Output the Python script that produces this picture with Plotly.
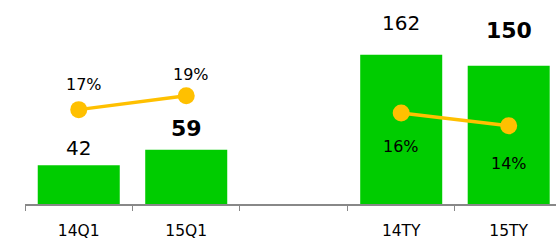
import plotly.graph_objects as go

# ---- data ----
categories = ["14Q1", "15Q1", " ", "14TY", "15TY"]
bar_values = [42, 59, None, 162, 150]
bar_labels = ["42", "<b>59</b>", "", "162", "<b>150</b>"]
q1_cats = ["14Q1", "15Q1"]
q1_pct = [17, 19]
ty_cats = ["14TY", "15TY"]
ty_pct = [16, 14]

# ---- style ----
GREEN = "#00CC00"
ORANGE = "#FFC000"
FONT = "DejaVu Sans"
bar_label_size = [20, 22, 20, 20, 22]
bar_label_shift = [17, 21, 0, 32, 35.5]
q1_label_shift = [25.4, 21.2]
ty_label_shift = [-33.5, -37.7]

fig = go.Figure()
fig.add_trace(go.Bar(x=categories, y=bar_values, marker_color=GREEN,
                     marker_line_width=0, hoverinfo="skip"))
fig.add_trace(go.Scatter(x=q1_cats, y=q1_pct, yaxis="y2", mode="lines+markers",
                         line=dict(color=ORANGE, width=3.5),
                         marker=dict(color=ORANGE, size=17)))
fig.add_trace(go.Scatter(x=ty_cats, y=ty_pct, yaxis="y3", mode="lines+markers",
                         line=dict(color=ORANGE, width=3.5),
                         marker=dict(color=ORANGE, size=17)))

ann = []
for c, v, t, s, sh in zip(categories, bar_values, bar_labels, bar_label_size, bar_label_shift):
    if v is None:
        continue
    ann.append(dict(x=c, y=v, xref="x", yref="y", text=t, showarrow=False,
                    yanchor="middle", yshift=sh, font=dict(size=s, color="#000", family=FONT)))
for c, v, sh in zip(q1_cats, q1_pct, q1_label_shift):
    ann.append(dict(x=c, y=v, xref="x", yref="y2", text=f"{v}%", showarrow=False,
                    yanchor="middle", yshift=sh, xshift=5,
                    font=dict(size=16, color="#000", family=FONT)))
for c, v, sh in zip(ty_cats, ty_pct, ty_label_shift):
    ann.append(dict(x=c, y=v, xref="x", yref="y3", text=f"{v}%", showarrow=False,
                    yanchor="middle", yshift=sh, xshift=0,
                    font=dict(size=16, color="#000", family=FONT)))

fig.update_layout(
    width=556, height=240,
    margin=dict(l=25, r=0, t=0, b=34),
    paper_bgcolor="white", plot_bgcolor="white",
    showlegend=False, bargap=0.237,
    font=dict(family=FONT, color="#000"),
    annotations=ann,
    xaxis=dict(type="category", categoryorder="array", categoryarray=categories,
               range=[-0.5, 4.44], tickson="boundaries", ticks="outside",
               ticklen=5, tickcolor="#888", tickwidth=1,
               showline=True, linecolor="#888", linewidth=2,
               showgrid=False, zeroline=False, ticklabelstandoff=11,
               tickfont=dict(size=15.5, color="#000", family=FONT)),
    yaxis=dict(range=[0, 221.5], visible=False, showgrid=False, zeroline=False),
    yaxis2=dict(range=[3.39, 32.81], overlaying="y", visible=False, showgrid=False),
    yaxis3=dict(range=[1.846, 33.54], overlaying="y", visible=False, showgrid=False),
)

fig.write_html("out.html", config={"displayModeBar": False},
               post_script="document.body.style.margin='0';document.body.style.overflow='hidden';")
